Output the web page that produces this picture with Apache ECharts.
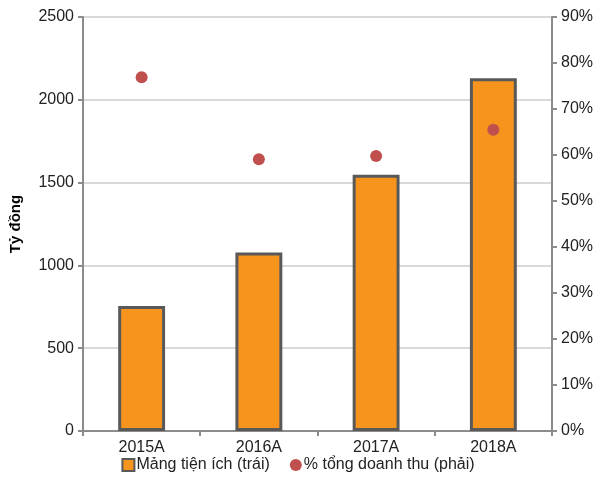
<!DOCTYPE html>
<html>
<head>
<meta charset="utf-8">
<script src="https://cdn.jsdelivr.net/npm/echarts@6/dist/echarts.min.js"></script>
<style>
  html, body { margin: 0; padding: 0; background: #fff; }
  #chart { width: 596px; height: 479px; }
</style>
</head>
<body>
<div id="chart"></div>
<script>
// dữ liệu
var categories = ['2015A', '2016A', '2017A', '2018A'];
var tienIch = [755, 1078, 1548, 2130];          // tỷ đồng (trục trái)
var tyTrong = [76.9, 59.1, 59.8, 65.5];          // % tổng doanh thu (trục phải)
var leftTicks = [0, 500, 1000, 1500, 2000, 2500];
var rightTicks = [0, 10, 20, 30, 40, 50, 60, 70, 80, 90];

var myChart = echarts.init(document.getElementById('chart'));
var font = 'Liberation Sans, Arial, sans-serif';
var axisGrey = '#8c8c8c';

var option = {
  backgroundColor: '#fff',
  animation: false,
  textStyle: { fontFamily: font },
  grid: { left: 82, right: 43, top: 17, bottom: 48, containLabel: false },
  legend: {
    bottom: 1,
    left: 'center',
    itemGap: 20,
    itemWidth: 12,
    itemHeight: 12,
    textStyle: { fontFamily: font, fontSize: 16, color: '#222', padding: [0, 0, 0, -3] },
    data: [
      { name: 'Mảng tiện ích (trái)', icon: 'rect' },
      { name: '% tổng doanh thu (phải)', icon: 'circle' }
    ]
  },
  xAxis: {
    type: 'category',
    data: categories,
    axisLine: { lineStyle: { color: axisGrey, width: 2 } },
    axisTick: { show: true, length: 5, lineStyle: { color: axisGrey, width: 2 } },
    axisLabel: { color: '#222', fontSize: 16, margin: 9 }
  },
  yAxis: [
    {
      type: 'value',
      min: leftTicks[0],
      max: leftTicks[leftTicks.length - 1],
      interval: 500,
      name: 'Tỷ đồng',
      nameLocation: 'middle',
      nameRotate: 90,
      nameGap: 60,
      nameTextStyle: { fontWeight: 'bold', fontSize: 15, color: '#000' },
      axisLine: { show: true, lineStyle: { color: axisGrey, width: 2 } },
      axisTick: { show: true, length: 5, lineStyle: { color: axisGrey, width: 2 } },
      axisLabel: { color: '#222', fontSize: 16, margin: 9, formatter: function (v) { return String(v); } },
      splitLine: { show: true, lineStyle: { color: '#d9d9d9', width: 2 } }
    },
    {
      type: 'value',
      position: 'right',
      min: rightTicks[0],
      max: rightTicks[rightTicks.length - 1],
      interval: 10,
      axisLine: { show: true, lineStyle: { color: axisGrey, width: 2 } },
      axisTick: { show: true, length: 5, lineStyle: { color: axisGrey, width: 2 } },
      axisLabel: { color: '#222', fontSize: 16, margin: 9, formatter: '{value}%' },
      splitLine: { show: false }
    }
  ],
  series: [
    {
      name: 'Mảng tiện ích (trái)',
      type: 'bar',
      yAxisIndex: 0,
      barWidth: '40%',
      data: tienIch,
      itemStyle: { color: '#f7941d', borderColor: '#595959', borderWidth: 3 }
    },
    {
      name: '% tổng doanh thu (phải)',
      type: 'scatter',
      yAxisIndex: 1,
      symbol: 'circle',
      symbolSize: 12,
      data: tyTrong,
      itemStyle: { color: '#c0504d', opacity: 1 },
      z: 5
    }
  ]
};
myChart.setOption(option);
</script>
</body>
</html>
